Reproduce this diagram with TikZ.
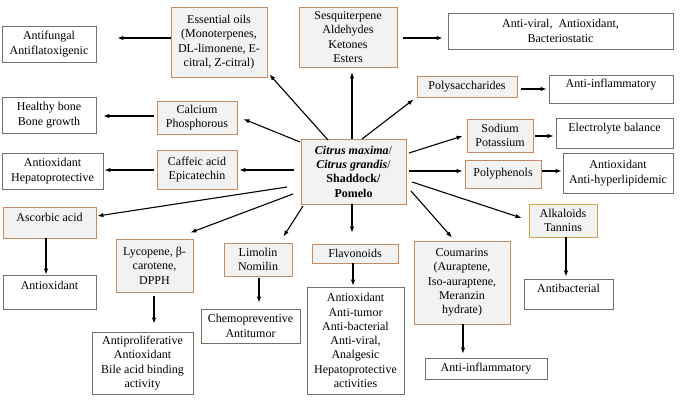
\documentclass[tikz,border=0pt]{standalone}
\usepackage{fontspec}
\setmainfont{Liberation Serif}
\usetikzlibrary{calc,arrows.meta}
\definecolor{cfill}{HTML}{F2F2F2}
\definecolor{cbord}{HTML}{C48C62}
\definecolor{abord}{HTML}{6B7563}
\definecolor{gbord}{HTML}{C9A64B}
\begin{document}
\begin{tikzpicture}[x=1pt,y=-1pt,
  font=\fontsize{12}{14.3}\selectfont,
  cbox/.style={draw=cbord,fill=cfill,line width=0.9pt,inner sep=0pt,align=center},
  abox/.style={draw=abord,fill=white,line width=0.9pt,inner sep=0pt,align=center},
  arr/.style={line width=1.1pt,-{Latex[length=6pt,width=4.5pt]}}]
\useasboundingbox[fill=white] (0,0) rectangle (680,402);
% center
\node[cbox,minimum width=105,minimum height=65] (c) at (353.5,171.5)
  {\textbf{\textit{Citrus maxima}}/\\\textbf{\textit{Citrus grandis}}/\\\textbf{Shaddock/}\\\textbf{Pomelo}};
% compound boxes
\node[cbox,minimum width=96,minimum height=70] (eo) at (219,42)
  {Essential oils\\(Monoterpenes,\\DL-limonene, E-\\citral, Z-citral)};
\node[cbox,minimum width=80,minimum height=33] (ca) at (197,117.5) {Calcium\\Phosphorous};
\node[cbox,minimum width=80,minimum height=39] (cf) at (197,169.5) {Caffeic acid\\Epicatechin};
\node[cbox,minimum width=93,minimum height=31] (as) at (49.5,222.5) {Ascorbic acid\\[-4pt]\mbox{}};
\node[cbox,minimum width=77,minimum height=53] (ly) at (154.5,265.5) {Lycopene, β-\\carotene,\\DPPH};
\node[cbox,minimum width=68,minimum height=33] (li) at (258,259.5) {Limolin\\Nomilin};
\node[cbox,minimum width=86,minimum height=19] (fl) at (355,253.5) {Flavonoids};
\node[cbox,minimum width=96,minimum height=83] (co) at (462,282.5)
  {Coumarins\\(Auraptene,\\Iso-auraptene,\\Meranzin\\hydrate)};
\node[cbox,draw=gbord,minimum width=68,minimum height=33] (al) at (563,220.5) {Alkaloids\\Tannins};
\node[cbox,minimum width=98,minimum height=60] (se) at (348,37) {Sesquiterpene\\Aldehydes\\Ketones\\Esters};
\node[cbox,minimum width=100,minimum height=21] (ps) at (467,86.5) {Polysaccharides};
\node[cbox,minimum width=66,minimum height=33] (so) at (500,135.5) {Sodium\\Potassium};
\node[cbox,minimum width=76,minimum height=28] (pp) at (503,174) {Polyphenols};
% activity boxes
\node[abox,minimum width=94,minimum height=36] (af) at (49,44) {Antifungal\\Antiflatoxigenic};
\node[abox,minimum width=94,minimum height=36] (hb) at (49,115) {Healthy bone\\Bone growth};
\node[abox,minimum width=101,minimum height=36] (ah) at (52.5,171) {Antioxidant\\Hepatoprotective};
\node[abox,minimum width=93,minimum height=34] (ao) at (49.5,292) {Antioxidant\\\mbox{}};
\node[abox,minimum width=101,minimum height=62] (ap) at (142.5,363)
  {Antiproliferative\\Antioxidant\\Bile acid binding\\activity};
\node[abox,minimum width=99,minimum height=34] (ch) at (250.5,326) {Chemopreventive\\Antitumor};
\node[abox,minimum width=97,minimum height=107] (fa) at (355.5,340.5)
  {Antioxidant\\Anti-tumor\\Anti-bacterial\\Anti-viral,\\Analgesic\\Hepatoprotective\\activities};
\node[abox,minimum width=122,minimum height=21] (ai2) at (486,368.5) {Anti-inflammatory};
\node[abox,minimum width=89,minimum height=30] (ab) at (568.5,294) {Antibacterial\\[-2pt]\mbox{}};
\node[abox,minimum width=225,minimum height=36] (av) at (560.5,31) {Anti-viral,\ \ Antioxidant,\\Bacteriostatic};
\node[abox,minimum width=124,minimum height=28] (ai) at (611,89) {Anti-inflammatory\\[-2pt]\mbox{}};
\node[abox,minimum width=117,minimum height=30] (el) at (614.5,133) {Electrolyte balance\\[-2pt]\mbox{}};
\node[abox,minimum width=110,minimum height=40] (ahl) at (618,173) {Antioxidant\\Anti-hyperlipidemic};
% arrows from center
\draw[arr] ($(c.center)+(-25.5,-31.5)$) -- ($(eo.south east)+(2,-3)$);
\draw[arr] ($(c.center)+(-53.5,-29.5)$) -- ($(ca.east)+(6,1.5)$);
\draw[arr] ($(c.center)+(-59.5,-1.5)$) -- ($(cf.east)+(2,0.5)$);
\draw[arr] ($(c.center)+(-66.5,15.5)$) -- ($(as.east)+(1,-6.5)$);
\draw[arr] ($(c.center)+(-60.5,22.5)$) -- ($(ly.north east)+(-3,-6)$);
\draw[arr] ($(c.center)+(-50.5,34.5)$) -- ($(li.north east)+(-9,-6)$);
\draw[arr] ($(c.center)+(-1.5,32.5)$) -- ($(fl.north)+(-3,-11)$);
\draw[arr] ($(c.center)+(57.5,19.5)$) -- ($(co.north)+(-10,-3)$);
\draw[arr] ($(c.center)+(58.5,10.5)$) -- ($(al.west)+(-7,-2.5)$);
\draw[arr] ($(c.center)+(-1.5,-32.5)$) -- ($(se.south)+(4,5)$);
\draw[arr] ($(c.center)+(8.5,-32.5)$) -- ($(ps.south west)+(-3,2)$);
\draw[arr] ($(c.center)+(55.5,-18.5)$) -- ($(so.west)+(-4,0.5)$);
\draw[arr] ($(c.center)+(55.5,-0.5)$) -- ($(pp.west)+(-2,-3)$);
% compound to activity
\draw[arr] ($(eo.west)+(0,-4)$) -- ($(af.east)+(21,-6)$);
\draw[arr] ($(ca.west)+(-3,-1.5)$) -- ($(hb.east)+(7,1)$);
\draw[arr] ($(cf.west)+(-3,0.5)$) -- ($(ah.east)+(1,-1)$);
\draw[arr] ($(as.south)+(-3.5,0)$) -- ($(ao.north)+(-3.5,0)$);
\draw[arr] ($(ly.south)+(-0.5,4)$) -- ($(ap.north)+(11.5,-8)$);
\draw[arr] ($(li.south)+(1,2)$) -- ($(ch.north)+(8.5,-6)$);
\draw[arr] ($(fl.south)+(-2,0)$) -- ($(fa.north)+(-2.5,-1)$);
\draw[arr] ($(co.south)+(1,0)$) -- ($(ai2.north)+(-23,-4)$);
\draw[arr] ($(al.south)+(3,0)$) -- ($(ab.north)+(-2.5,-2)$);
\draw[arr] ($(se.east)+(6,1)$) -- ($(av.west)+(-5,7)$);
\draw[arr] ($(ps.east)+(4,2.5)$) -- ($(ai.west)+(-2,0)$);
\draw[arr] ($(so.east)+(2,0.5)$) -- ($(el.west)+(-2,3)$);
\draw[arr] ($(pp.east)+(1,-3)$) -- ($(ahl.west)+(-1,-2)$);
\end{tikzpicture}
\end{document}
